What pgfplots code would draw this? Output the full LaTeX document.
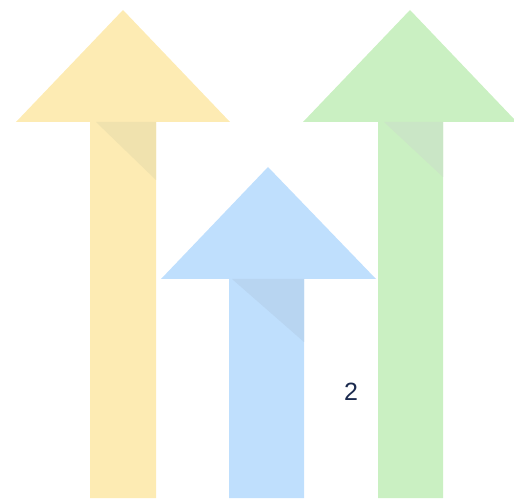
\documentclass[border=0pt]{standalone}
\usepackage{pgfplots}
\pgfplotsset{compat=1.18}
\usepackage{fontspec}
\setmainfont{Liberation Sans}
\definecolor{ylw}{HTML}{FDEBB3}
\definecolor{ylwsh}{HTML}{F0E2AE}
\definecolor{blu}{HTML}{BFDFFD}
\definecolor{blush}{HTML}{B8D5F1}
\definecolor{grn}{HTML}{CAF0C2}
\definecolor{grnsh}{HTML}{CAE6C6}
\definecolor{navy}{HTML}{1B2A4E}
\begin{document}
\begin{tikzpicture}
\begin{axis}[
  width=514pt, height=498pt, scale only axis,
  xmin=0, xmax=514, ymin=0, ymax=498,
  axis lines=none, ticks=none, clip=false,
]
% frame of the picture (invisible)
\addplot[draw=none, fill=none] coordinates {(0,0) (514,0) (514,498) (0,498)} --cycle;
% yellow arrow
\addplot[fill=ylw, draw=none] coordinates {(90,0) (90,376) (16,376) (123,488) (230,376) (156,376) (156,0)} --cycle;
\addplot[fill=ylwsh, draw=none] coordinates {(96,376) (156,376) (156,318)} --cycle;
% blue arrow
\addplot[fill=blu, draw=none] coordinates {(229,0) (229,219) (161,219) (268,331) (376,219) (304,219) (304,0)} --cycle;
\addplot[fill=blush, draw=none] coordinates {(232,219) (304,219) (304,156)} --cycle;
% green arrow
\addplot[fill=grn, draw=none] coordinates {(378,0) (378,376) (303,376) (410,488) (514,379) (514,376) (443,376) (443,0)} --cycle;
\addplot[fill=grnsh, draw=none] coordinates {(384,376) (443,376) (443,321)} --cycle;
\node[text=navy, font=\fontsize{25}{30}\selectfont] at (axis cs:351,106) {2};
\end{axis}
\end{tikzpicture}
\end{document}
